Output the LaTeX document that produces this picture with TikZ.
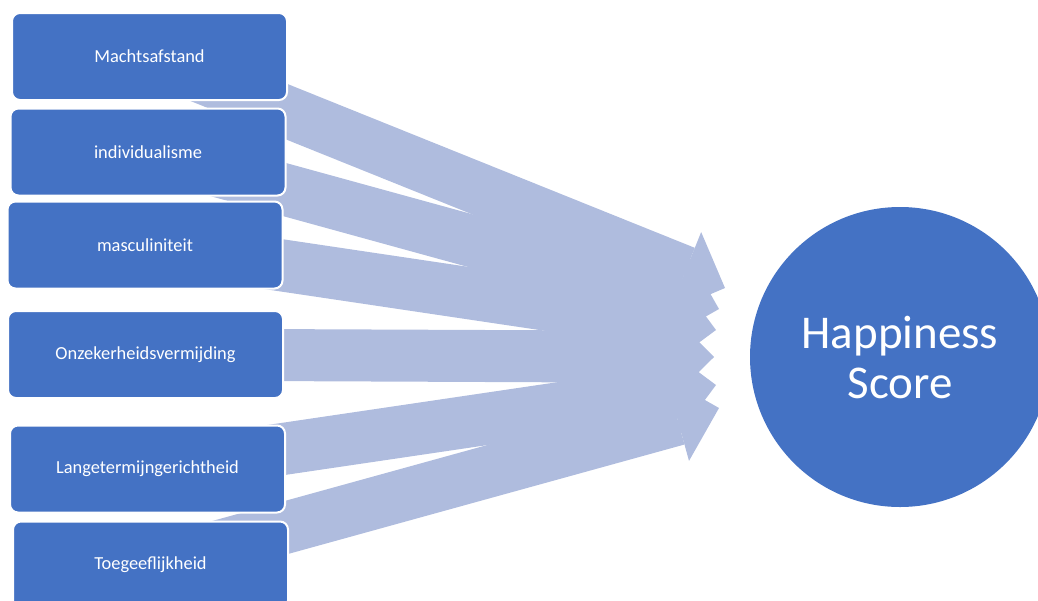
\documentclass[tikz,border=0pt]{standalone}
\usepackage{fontspec}
\setmainfont{Carlito}
\usetikzlibrary{arrows.meta}
\definecolor{boxblue}{HTML}{4472C4}
\definecolor{arrowblue}{RGB}{175,188,222}
\pgfdeclarelayer{bg}
\pgfsetlayers{bg,main}
\begin{document}
\begin{tikzpicture}[x=1pt, y=-1pt, line join=round,
	factor/.style={draw=white, line width=2pt, fill=boxblue, rounded corners=8pt,
		minimum width=275pt, minimum height=87pt, text=white, font=\fontsize{18.4}{22}\selectfont},
	score/.style={circle, fill=boxblue, minimum size=300pt, inner sep=0pt, text=white,
		align=center, font=\fontsize{47}{50}\selectfont},
	fat/.style={arrowblue, line width=52pt, -{Triangle[length=43pt, width=86pt, line width=0pt]}}]
	\useasboundingbox (0,0) rectangle (1038,600);
	% Factoren
	\node[factor] (mach) at (149.5,56.5) {Machtsafstand};
	\node[factor] (indiv) at (148,152) {individualisme};
	\node[factor] (masc) at (145,245) {masculiniteit};
	\node[factor] (onz) at (145.5,354.5) {Onzekerheidsvermijding};
	\node[factor] (lange) at (147.5,469) {Langetermijngerichtheid};
	\node[factor] (toeg) at (150.5,565) {Toegeeflijkheid};
	\node[score] (happy) at (900,357) {Happiness\\Score};
	% Pijlpunten
	\coordinate (t1) at (725,288);
	\coordinate (t2) at (719,309);
	\coordinate (t3) at (716,330);
	\coordinate (t4) at (714,357);
	\coordinate (t5) at (716,385);
	\coordinate (t6) at (719,408);
	\begin{pgfonlayer}{bg}
		\foreach \f/\t in {mach/t1, indiv/t2, masc/t3, onz/t4, lange/t5, toeg/t6}
			\draw[fat] (\f.center) -- (\t);
	\end{pgfonlayer}
\end{tikzpicture}
\end{document}
